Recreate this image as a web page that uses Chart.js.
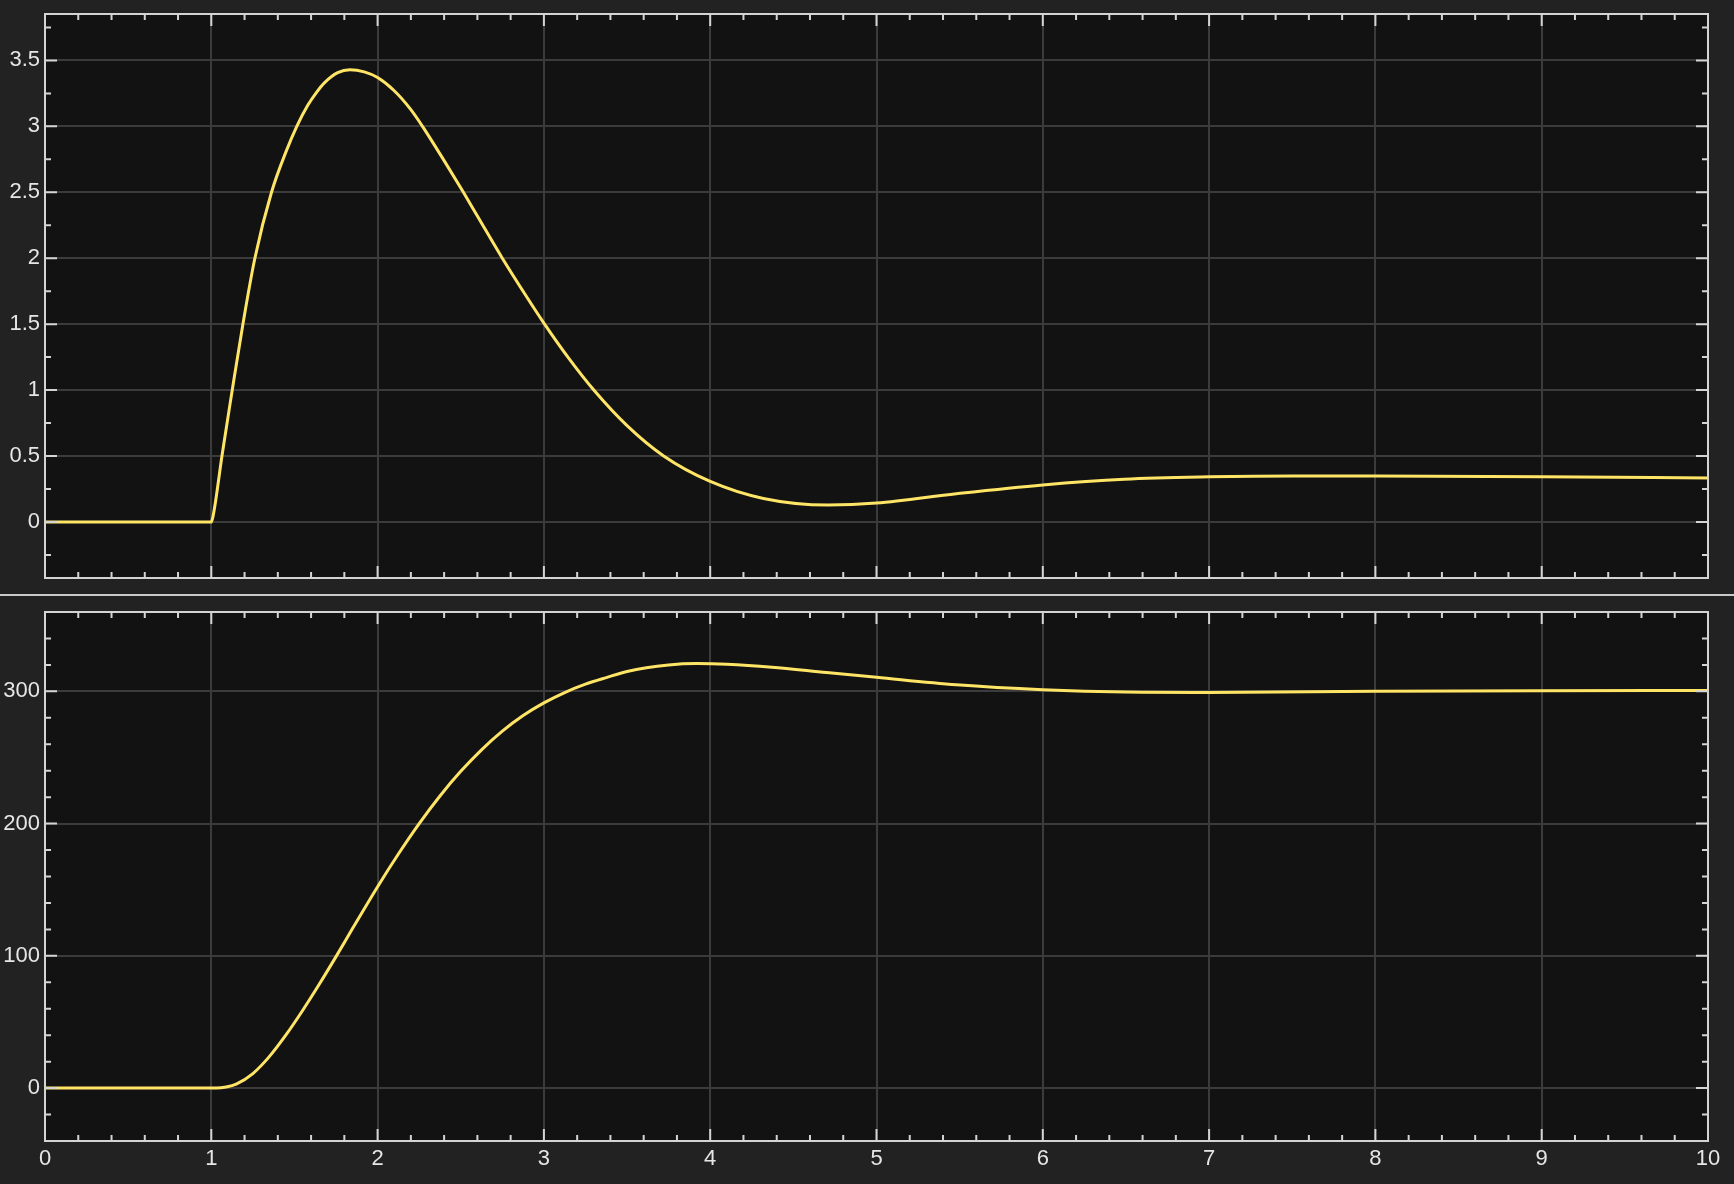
<!DOCTYPE html>
<html>
<head>
<meta charset="utf-8">
<script src="https://cdn.jsdelivr.net/npm/chart.js@4.4.1/dist/chart.umd.min.js"></script>
<style>
  body { margin: 0; background: #222222; width: 1734px; height: 1184px; overflow: hidden; position: relative; }
  canvas { position: absolute; left: 0; }
  #topChart { top: 0; }
  #divider { position: absolute; left: 0; top: 594px; width: 1734px; height: 2px; background: #c9c9c9; }
  #bottomChart { top: 596px; }
</style>
</head>
<body>
<canvas id="topChart" width="1734" height="594"></canvas>
<div id="divider"></div>
<canvas id="bottomChart" width="1734" height="588"></canvas>
<script>
// Upper trace
const topTime = [0, 1.0, 1.01, 1.025, 1.064, 1.126, 1.19, 1.262, 1.362, 1.45, 1.514, 1.58, 1.634, 1.68, 1.76, 1.834,
  1.92, 2.0, 2.1, 2.2, 2.27, 2.4, 2.516, 2.6, 2.75, 2.9, 3.004, 3.15, 3.3, 3.5, 3.72, 4.0, 4.32, 4.71,
  5.0, 5.48, 6.0, 6.49, 7.0, 7.5, 8.0, 9.0, 10.0];
const topValues = [0, 0, 0.04, 0.15, 0.5, 1.0, 1.5, 2.0, 2.5, 2.81, 3.0, 3.16, 3.26, 3.33, 3.407, 3.43,
  3.413, 3.37, 3.27, 3.127, 3.0, 2.74, 2.5, 2.32, 2.0, 1.7, 1.5, 1.24, 1.0, 0.73, 0.5, 0.307, 0.178, 0.128,
  0.143, 0.214, 0.281, 0.324, 0.342, 0.349, 0.349, 0.342, 0.334];

// Lower trace
const bottomTime = [0, 1.03, 1.09, 1.15, 1.25, 1.35, 1.45, 1.55, 1.65, 1.75, 1.85, 2.0, 2.125, 2.25,
  2.375, 2.5, 2.625, 2.75, 2.875, 3.0, 3.125, 3.25, 3.375, 3.5, 3.75, 3.92, 4.1, 4.37, 4.7,
  5.0, 5.48, 6.0, 6.5, 7.0, 8.0, 9.0, 10.0];
const bottomValues = [0, 0, 0.8, 3.0, 11, 24, 40.4, 58.9, 78.7, 99.4, 120.8, 152.3, 177, 200,
  220.9, 239.5, 255.8, 269.9, 281.7, 291.3, 299.1, 305.4, 310.4, 315, 319.9, 321, 320.5, 318.3, 314.2,
  310.6, 305, 301.3, 299.5, 299.2, 300, 300.5, 300.7];

// Axis ticks
const xTicks = [0, 1, 2, 3, 4, 5, 6, 7, 8, 9, 10];
const topYTicks = [0, 0.5, 1, 1.5, 2, 2.5, 3, 3.5];
const bottomYTicks = [0, 100, 200, 300];

const FONT = "'Liberation Sans', Arial, Helvetica, sans-serif";
const LINE_COLOR = "#ffe566";
const FRAME_COLOR = "#d4d4d4";
const GRID_COLOR = "#3b3b3b";
const LABEL_COLOR = "#e6e6e6";

// plot background, frame and inward tick marks
const insideTicks = {
  id: "insideTicks",
  beforeDraw(chart) {
    const { ctx, chartArea: a } = chart;
    ctx.save();
    ctx.fillStyle = "#121212";
    ctx.fillRect(a.left, a.top, a.right - a.left, a.bottom - a.top);
    ctx.restore();
  },
  afterDraw(chart, args, opts) {
    const { ctx, chartArea: a, scales } = chart;
    const x = scales.x, y = scales.y;
    ctx.save();
    ctx.strokeStyle = FRAME_COLOR;
    ctx.lineWidth = 2;
    ctx.beginPath();
    for (let i = 0; i <= 50; i++) {
      const px = x.getPixelForValue(i * 0.2);
      const len = i % 5 === 0 ? 12 : 6;
      ctx.moveTo(px, a.bottom); ctx.lineTo(px, a.bottom - len);
      ctx.moveTo(px, a.top); ctx.lineTo(px, a.top + len);
    }
    const k0 = Math.ceil(y.min / opts.yStep), k1 = Math.floor(y.max / opts.yStep);
    for (let k = k0; k <= k1; k++) {
      const py = y.getPixelForValue(k * opts.yStep);
      const len = k % opts.majorEvery === 0 ? 12 : 6;
      ctx.moveTo(a.left, py); ctx.lineTo(a.left + len, py);
      ctx.moveTo(a.right, py); ctx.lineTo(a.right - len, py);
    }
    ctx.stroke();
    ctx.strokeRect(a.left, a.top, a.right - a.left, a.bottom - a.top);
    ctx.restore();
  }
};

function makeChart(id, times, values, yMin, yMax, yTicks, yStep, majorEvery, showX, pad) {
  const points = times.map((t, i) => ({ x: t, y: values[i] }));
  return new Chart(document.getElementById(id), {
    type: "line",
    data: {
      datasets: [{
        data: points,
        borderColor: LINE_COLOR,
        borderWidth: 3,
        pointRadius: 0,
        cubicInterpolationMode: "monotone",
        fill: false
      }]
    },
    options: {
      responsive: false,
      animation: false,
      layout: { padding: pad },
      plugins: {
        legend: { display: false },
        tooltip: { enabled: false },
        insideTicks: { yStep: yStep, majorEvery: majorEvery }
      },
      scales: {
        x: {
          type: "linear",
          min: 0,
          max: 10,
          afterBuildTicks: (s) => { s.ticks = xTicks.map((v) => ({ value: v })); },
          afterFit: (s) => {
            s.height = showX ? 43 : 0;
            s.paddingLeft = 0; s.paddingRight = 0;
          },
          grid: { color: GRID_COLOR, lineWidth: 2, drawTicks: false },
          border: { display: false },
          ticks: {
            display: showX,
            color: LABEL_COLOR,
            font: { family: FONT, size: 22 },
            padding: 5,
            maxRotation: 0,
            autoSkip: false,
            callback: (v) => String(v)
          }
        },
        y: {
          min: yMin,
          max: yMax,
          afterBuildTicks: (s) => { s.ticks = yTicks.map((v) => ({ value: v })); },
          afterFit: (s) => {
            s.width = 45;
            s.paddingTop = 0; s.paddingBottom = 0;
          },
          grid: { color: GRID_COLOR, lineWidth: 2, drawTicks: false },
          border: { display: false },
          ticks: {
            color: LABEL_COLOR,
            font: { family: FONT, size: 22 },
            padding: 5,
            callback: (v) => String(v)
          }
        }
      }
    },
    plugins: [insideTicks]
  });
}

makeChart("topChart", topTime, topValues, -0.425, 3.852, topYTicks, 0.25, 2, false,
  { top: 14, right: 26, bottom: 16, left: 0 });
makeChart("bottomChart", bottomTime, bottomValues, -40, 360, bottomYTicks, 20, 5, true,
  { top: 16, right: 26, bottom: 0, left: 0 });
</script>
</body>
</html>
